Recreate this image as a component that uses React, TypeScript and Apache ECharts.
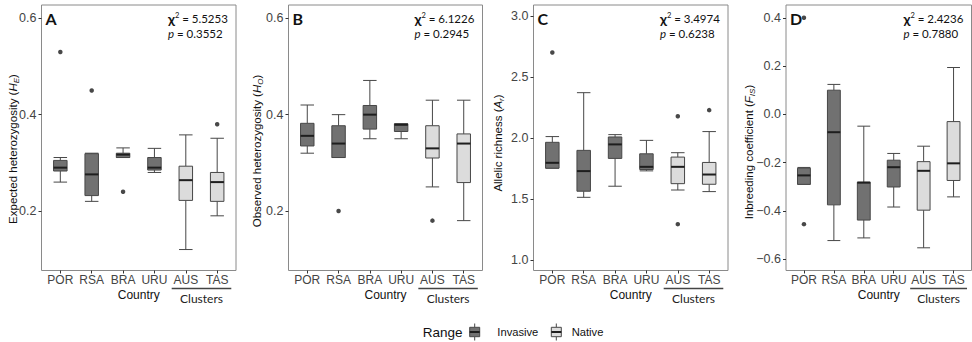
import React, { useEffect, useRef } from "react";
import * as echarts from "echarts";

// ---------- data ----------
const categories = ["POR", "RSA", "BRA", "URU", "AUS", "TAS"];
const rangeOfCategory = ["Invasive", "Invasive", "Invasive", "Invasive", "Native", "Native"];
const rangeLabels = ["Invasive", "Native"];

// [lower whisker, Q1, median, Q3, upper whisker]
const heBoxes = [
  [0.26, 0.283, 0.29, 0.305, 0.311],
  [0.22, 0.232, 0.276, 0.319, 0.32],
  [0.311, 0.311, 0.317, 0.32, 0.331],
  [0.28, 0.285, 0.29, 0.311, 0.33],
  [0.12, 0.222, 0.264, 0.293, 0.358],
  [0.19, 0.22, 0.26, 0.28, 0.351],
];
const heOutliers: [string, number][] = [["POR", 0.53], ["RSA", 0.45], ["BRA", 0.24], ["TAS", 0.38]];

const hoBoxes = [
  [0.32, 0.335, 0.356, 0.382, 0.42],
  [0.311, 0.311, 0.34, 0.377, 0.4],
  [0.35, 0.37, 0.4, 0.419, 0.471],
  [0.35, 0.365, 0.379, 0.381, 0.381],
  [0.25, 0.31, 0.33, 0.377, 0.43],
  [0.18, 0.259, 0.34, 0.36, 0.43],
];
const hoOutliers: [string, number][] = [["RSA", 0.2], ["AUS", 0.18]];

const arBoxes = [
  [1.752, 1.752, 1.796, 1.964, 2.011],
  [1.513, 1.563, 1.728, 1.898, 2.371],
  [1.604, 1.832, 1.947, 2.008, 2.027],
  [1.73, 1.741, 1.763, 1.87, 1.98],
  [1.573, 1.625, 1.763, 1.843, 1.879],
  [1.56, 1.62, 1.7, 1.799, 2.052],
];
const arOutliers: [string, number][] = [["POR", 2.7], ["AUS", 2.178], ["AUS", 1.293], ["TAS", 2.228]];

const fisBoxes = [
  [-0.29, -0.29, -0.253, -0.223, -0.22],
  [-0.523, -0.375, -0.074, 0.1, 0.124],
  [-0.512, -0.438, -0.283, -0.281, -0.049],
  [-0.384, -0.301, -0.219, -0.19, -0.162],
  [-0.553, -0.397, -0.234, -0.196, -0.132],
  [-0.342, -0.274, -0.203, -0.03, 0.194],
];
const fisOutliers: [string, number][] = [["POR", 0.4], ["POR", -0.455]];

const heTicks = [0.2, 0.4, 0.6];
const hoTicks = [0.2, 0.4, 0.6];
const arTicks = [1.0, 1.5, 2.0, 2.5, 3.0];
const fisTicks = [-0.6, -0.4, -0.2, 0.0, 0.2, 0.4];

const panelLetters = ["A", "B", "C", "D"];
const chiSquared = ["5.5253", "6.1226", "3.4974", "2.4236"];
const pValues = ["0.3552", "0.2945", "0.6238", "0.7880"];
const yTitles = [
  ["Expected heterozygosity (", "H", "E"],
  ["Observed heterozygosity (", "H", "O"],
  ["Allelic richness (", "A", "r"],
  ["Inbreeding coefficient (", "F", "IS"],
];
const xTitle = "Country";
const groupTitle = "Clusters";
const legendTitle = "Range";

// ---------- styles / layout ----------
const INVASIVE_FILL = "#717171";
const NATIVE_FILL = "#dcdcdc";
const EDGE = "#474747";
const MEDIAN = "#1e1e1e";
const FRAME = "#8a8a8a";
const AXIS_TEXT = "#444";
const SANS = "'Liberation Sans', Arial, sans-serif";
const ALT = "Lato, 'Open Sans', sans-serif";

const TOP = 5;
const HEIGHT = 265.5;

const panels = [
  { boxes: heBoxes, outliers: heOutliers, ticks: heTicks, yMin: 0.0765, yMax: 0.6276, left: 41.5, width: 194.5, titleX: 12.7, titleY: 149 },
  { boxes: hoBoxes, outliers: hoOutliers, ticks: hoTicks, yMin: 0.0765, yMax: 0.6276, left: 288.5, width: 194, titleX: 257.3, titleY: 151 },
  { boxes: arBoxes, outliers: arOutliers, ticks: arTicks, yMin: 0.913, yMax: 3.09, left: 533.5, width: 194.5, titleX: 497.7, titleY: 143 },
  { boxes: fisBoxes, outliers: fisOutliers, ticks: fisTicks, yMin: -0.647, yMax: 0.453, left: 786, width: 185.5, titleX: 749, titleY: 152 },
];

const fmtTick = (v: number) => (v < 0 ? "\u2212" + Math.abs(v).toFixed(1) : v.toFixed(1));

const renderBox = (params: any, api: any) => {
  const x = api.value(0);
  const pts = [1, 2, 3, 4, 5].map((d) => api.coord([x, api.value(d)]));
  const cx = pts[0][0];
  const yLo = pts[0][1];
  const yQ1 = pts[1][1];
  const yMed = pts[2][1];
  const yQ3 = pts[3][1];
  const yHi = pts[4][1];
  const bw = api.size([1, 0])[0] * 0.43;
  const fill = rangeOfCategory[params.dataIndex] === "Native" ? NATIVE_FILL : INVASIVE_FILL;
  const ls = { stroke: EDGE, lineWidth: 1, fill: null };
  return {
    type: "group",
    children: [
      { type: "line", shape: { x1: cx, y1: yHi, x2: cx, y2: yQ3 }, style: ls },
      { type: "line", shape: { x1: cx, y1: yQ1, x2: cx, y2: yLo }, style: ls },
      { type: "line", shape: { x1: cx - bw / 2, y1: yHi, x2: cx + bw / 2, y2: yHi }, style: ls },
      { type: "line", shape: { x1: cx - bw / 2, y1: yLo, x2: cx + bw / 2, y2: yLo }, style: ls },
      { type: "rect", shape: { x: cx - bw / 2, y: yQ3, width: bw, height: yQ1 - yQ3 }, style: { fill, stroke: EDGE, lineWidth: 1 } },
      { type: "line", shape: { x1: cx - bw / 2, y1: yMed, x2: cx + bw / 2, y2: yMed }, style: { stroke: MEDIAN, lineWidth: 2 } },
    ],
  };
};

function legendKey(cx: number, cy: number, fill: string) {
  return {
    type: "group",
    children: [
      { type: "line", shape: { x1: cx, y1: cy - 8.5, x2: cx, y2: cy - 4.7 }, style: { stroke: EDGE, lineWidth: 1 } },
      { type: "line", shape: { x1: cx, y1: cy + 4.7, x2: cx, y2: cy + 8.5 }, style: { stroke: EDGE, lineWidth: 1 } },
      { type: "rect", shape: { x: cx - 5, y: cy - 4.7, width: 10, height: 9.4 }, style: { fill, stroke: EDGE, lineWidth: 1 } },
      { type: "line", shape: { x1: cx - 5, y1: cy, x2: cx + 5, y2: cy }, style: { stroke: MEDIAN, lineWidth: 2 } },
    ],
  };
}

export default function App() {
  const ref = useRef<HTMLDivElement>(null);
  useEffect(() => {
    if (!ref.current) return;
    const chart = echarts.init(ref.current, undefined, { renderer: "svg" });
    const catVals = categories.map((_, i) => i + 1);

    const grids: any[] = [];
    const xAxes: any[] = [];
    const yAxes: any[] = [];
    const series: any[] = [];
    const graphic: any[] = [];

    panels.forEach((p, k) => {
      grids.push({
        left: p.left, top: TOP, width: p.width, height: HEIGHT,
        show: true, borderColor: FRAME, borderWidth: 1, backgroundColor: "#fff", containLabel: false,
      });
      xAxes.push({
        type: "value", gridIndex: k, min: 0.4, max: 6.6, position: "bottom",
        axisLine: { show: false, onZero: false },
        splitLine: { show: false },
        axisTick: { show: true, customValues: catVals, length: 3, lineStyle: { color: "#333", width: 1 } },
        axisLabel: {
          customValues: catVals, margin: 3.5, color: AXIS_TEXT, fontFamily: SANS, fontSize: 12,
          formatter: (v: number) => categories[Math.round(v) - 1] ?? "",
        },
      });
      yAxes.push({
        type: "value", gridIndex: k, min: p.yMin, max: p.yMax, position: "left",
        axisLine: { show: false, onZero: false },
        splitLine: { show: false },
        axisTick: { show: true, customValues: p.ticks, length: 3, lineStyle: { color: "#333", width: 1 } },
        axisLabel: { customValues: p.ticks, margin: 5, color: AXIS_TEXT, fontFamily: SANS, fontSize: 12.5, formatter: fmtTick },
      });
      series.push({
        type: "custom", xAxisIndex: k, yAxisIndex: k, silent: true,
        data: p.boxes.map((b, i) => [i + 1, ...b]),
        encode: { x: 0, y: [1, 2, 3, 4, 5] },
        renderItem: renderBox,
        z: 2,
      });
      series.push({
        type: "scatter", xAxisIndex: k, yAxisIndex: k, silent: true,
        data: p.outliers.map(([c, v]) => [categories.indexOf(c) + 1, v]),
        symbol: "circle", symbolSize: 4.5,
        itemStyle: { color: "#1a1a1a" },
        z: 3,
      });

      const right = p.left + p.width;
      const unit = p.width / 6.2;
      const posOf = (i: number) => p.left + (i + 1 - 0.4) * unit;
      graphic.push({
        type: "text", x: p.left + 4, y: 18.5, z: 10,
        style: { text: panelLetters[k], fontFamily: ALT, fontWeight: "bold", fontSize: 16, fill: "#111", verticalAlign: "middle" },
      });
      graphic.push({
        type: "text", x: right - 68, y: 18.5, z: 10,
        style: {
          text: `{c|\u03c7}{s|2}{n| = ${chiSquared[k]}}`,
          verticalAlign: "middle",
          rich: {
            c: { fontFamily: ALT, fontWeight: "bold", fontSize: 14, fill: "#111" },
            s: { fontFamily: ALT, fontSize: 7.5, fill: "#111", verticalAlign: "top" },
            n: { fontFamily: ALT, fontSize: 11.5, fill: "#111" },
          },
        },
      });
      graphic.push({
        type: "text", x: right - 68, y: 33.5, z: 10,
        style: {
          text: `{p|p}{n| = ${pValues[k]}}`,
          verticalAlign: "middle",
          rich: {
            p: { fontFamily: ALT, fontStyle: "italic", fontSize: 11.5, fill: "#111" },
            n: { fontFamily: ALT, fontSize: 11.5, fill: "#111" },
          },
        },
      });
      const [main, sym, sub] = yTitles[k];
      graphic.push({
        type: "text", x: p.titleX, y: p.titleY, rotation: Math.PI / 2,
        style: {
          text: `{n|${main}}{i|${sym}}{b|${sub}}{n|)}`,
          align: "center", verticalAlign: "middle",
          rich: {
            n: { fontFamily: SANS, fontSize: 11.5, fill: "#111", lineHeight: 15 },
            i: { fontFamily: SANS, fontSize: 11.5, fontStyle: "italic", fill: "#111", lineHeight: 15 },
            b: { fontFamily: SANS, fontSize: 8, fontStyle: "italic", fill: "#111", verticalAlign: "bottom", lineHeight: 15 },
          },
        },
      });
      graphic.push({
        type: "text", x: p.left + p.width / 2, y: 295,
        style: { text: xTitle, fontFamily: SANS, fontSize: 12, fill: "#111", align: "center", verticalAlign: "middle" },
      });
      const a = posOf(4);
      const t = posOf(5);
      graphic.push({
        type: "line", shape: { x1: a - 0.45 * unit, y1: 288.5, x2: t + 0.45 * unit, y2: 288.5 },
        style: { stroke: "#444", lineWidth: 1.3 },
      });
      graphic.push({
        type: "text", x: (a + t) / 2, y: 298.5,
        style: { text: groupTitle, fontFamily: ALT, fontSize: 12, fill: "#222", align: "center", verticalAlign: "middle" },
      });
    });

    graphic.push({
      type: "text", x: 422.7, y: 332,
      style: { text: legendTitle, fontFamily: SANS, fontSize: 13.5, fill: "#111", verticalAlign: "middle" },
    });
    graphic.push(legendKey(474.7, 332, INVASIVE_FILL));
    graphic.push({
      type: "text", x: 497.3, y: 332,
      style: { text: rangeLabels[0], fontFamily: SANS, fontSize: 11.2, fill: "#111", verticalAlign: "middle" },
    });
    graphic.push(legendKey(556.3, 332, NATIVE_FILL));
    graphic.push({
      type: "text", x: 571.7, y: 332,
      style: { text: rangeLabels[1], fontFamily: SANS, fontSize: 11.2, fill: "#111", verticalAlign: "middle" },
    });

    chart.setOption({
      animation: false,
      backgroundColor: "#fff",
      grid: grids,
      xAxis: xAxes,
      yAxis: yAxes,
      series,
      graphic,
    });
    return () => chart.dispose();
  }, []);
  return (
    <div
      ref={ref}
      style={{ position: "absolute", left: 0, top: 0, width: 972, height: 342, background: "#fff" }}
    />
  );
}
